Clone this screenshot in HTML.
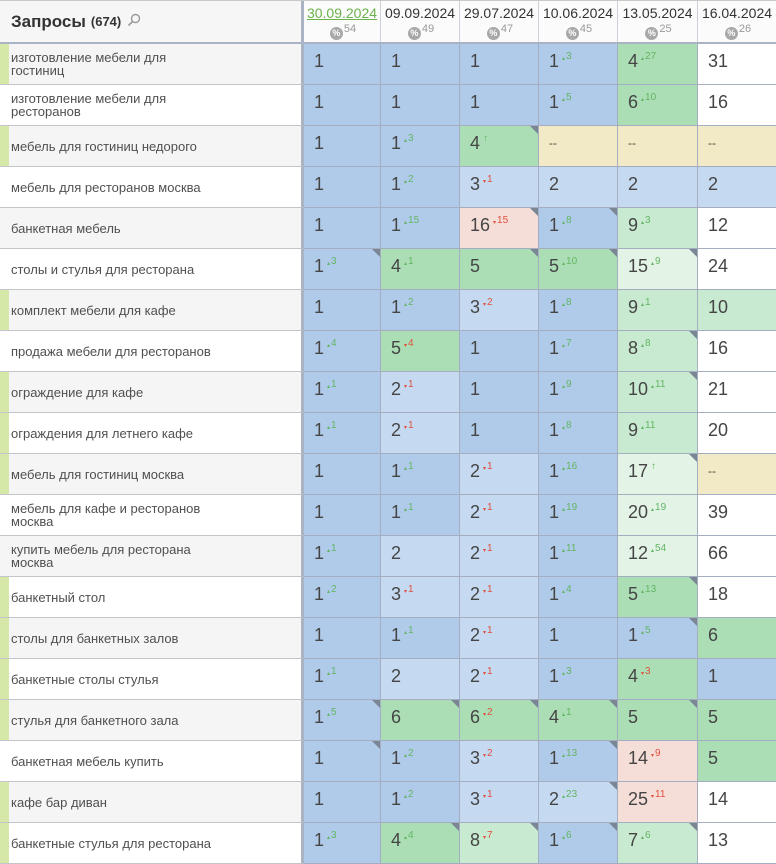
<!DOCTYPE html>
<html><head><meta charset="utf-8">
<style>
*{box-sizing:border-box;margin:0;padding:0}
html,body{width:776px;height:864px;overflow:hidden;background:#fff}
body{font-family:"Liberation Sans","DejaVu Sans",sans-serif;color:#454545}
.h,.r{display:flex;width:776px}
.h{height:44px;border-top:1px solid #c9c9c9;border-bottom:2px solid #a9b3c4}
.r{height:41px}
.h>div:nth-child(1),.r>div:nth-child(1){width:304px;border-right:3px solid #a9b3c4}
.h>div:nth-child(2),.r>div:nth-child(2){width:77px}
.h>div:nth-child(3),.r>div:nth-child(3){width:79px}
.h>div:nth-child(4),.r>div:nth-child(4){width:79px}
.h>div:nth-child(5),.r>div:nth-child(5){width:79px}
.h>div:nth-child(6),.r>div:nth-child(6){width:80px}
.h>div:nth-child(7),.r>div:nth-child(7){width:78px;border-right:none}
.h0{background:#f6f6f6;padding-left:11px;display:flex;align-items:center;font-size:17px;font-weight:bold;color:#333}
.h0 small{font-size:13px;margin-left:5px}
.h0 svg{margin-left:6px;margin-top:-4px}
.hc{background:#fbfbfb;border-right:1px solid #cdd2da;text-align:center;padding-top:4px;font-size:14px;line-height:16px;color:#333}
.hc a{color:#6cb24c;text-decoration:underline}
.pc{display:flex;justify-content:center;margin-top:6px;height:14px;padding-left:2px}
.ci{width:13px;height:13px;border-radius:50%;background:#a8a8a8;color:#fff;font-size:9px;line-height:13px;font-weight:bold;text-align:center}
.pc b{font-weight:normal;font-size:11px;line-height:11px;color:#999;margin-top:-3px;margin-left:1px}
.q{position:relative;padding-left:11px;display:flex;align-items:center;font-size:13px;line-height:13px;color:#505050;border-bottom:1px solid #c2c5ca}
.o .q{background:#f5f5f6}
.e .q{background:#fff}
.bar .q::before{content:"";position:absolute;left:0;top:0;bottom:0;width:9px;background:#d5e8a8}
.c{position:relative;padding:7px 0 0 10px;font-size:18px;line-height:20px;color:#454545;border-right:1px solid #a4aec0;border-bottom:1px solid #a4aec0;white-space:nowrap}
.c sup{font-size:10px;line-height:10px;vertical-align:top;margin-left:3px;position:relative;top:1px}
.c sup i{font-style:normal;font-size:6px;vertical-align:top;position:relative;top:2px;margin-right:1px}
.u{color:#62b562}
.d{color:#e0503c}
.c s{text-decoration:none;font-size:12px;position:relative;top:-2px}
.t::after{content:"";position:absolute;top:0;right:0;width:0;height:0;border-style:solid;border-width:0 8px 8px 0;border-color:transparent #7b8695 transparent transparent}
.b1{background:#b0cbea}
.b2{background:#c5d9f1}
.g1{background:#acdeb6}
.g2{background:#c8ead0}
.g3{background:#e3f4e7}
.pk{background:#f5ddd8}
.yl{background:#f2eac6}
.w{background:#fff}
</style></head><body>
<div class="h">
<div class="h0">Запросы<small>(674)</small><svg width="14" height="14" viewBox="0 0 14 14"><circle cx="8.5" cy="5.5" r="4" fill="none" stroke="#9a9a9a" stroke-width="1.4"/><line x1="5.6" y1="8.4" x2="1.5" y2="12.5" stroke="#9a9a9a" stroke-width="1.6"/></svg></div>
<div class="hc"><a>30.09.2024</a><div class="pc"><span class="ci">%</span><b>54</b></div></div>
<div class="hc">09.09.2024<div class="pc"><span class="ci">%</span><b>49</b></div></div>
<div class="hc">29.07.2024<div class="pc"><span class="ci">%</span><b>47</b></div></div>
<div class="hc">10.06.2024<div class="pc"><span class="ci">%</span><b>45</b></div></div>
<div class="hc">13.05.2024<div class="pc"><span class="ci">%</span><b>25</b></div></div>
<div class="hc">16.04.2024<div class="pc"><span class="ci">%</span><b>26</b></div></div>
</div>

<div class="r o bar"><div class="q">изготовление мебели для<br>гостиниц</div><div class="c b1">1</div><div class="c b1">1</div><div class="c b1">1</div><div class="c b1">1<sup class="u"><i>▴</i>3</sup></div><div class="c g1">4<sup class="u"><i>▴</i>27</sup></div><div class="c w">31</div></div>

<div class="r e"><div class="q">изготовление мебели для<br>ресторанов</div><div class="c b1">1</div><div class="c b1">1</div><div class="c b1">1</div><div class="c b1">1<sup class="u"><i>▴</i>5</sup></div><div class="c g1">6<sup class="u"><i>▴</i>10</sup></div><div class="c w">16</div></div>

<div class="r o bar"><div class="q">мебель для гостиниц недорого</div><div class="c b1">1</div><div class="c b1">1<sup class="u"><i>▴</i>3</sup></div><div class="c g1 t">4<sup class="u">↑</sup></div><div class="c yl"><s>--</s></div><div class="c yl"><s>--</s></div><div class="c yl"><s>--</s></div></div>

<div class="r e"><div class="q">мебель для ресторанов москва</div><div class="c b1">1</div><div class="c b1">1<sup class="u"><i>▴</i>2</sup></div><div class="c b2">3<sup class="d"><i>▾</i>1</sup></div><div class="c b2">2</div><div class="c b2">2</div><div class="c b2">2</div></div>

<div class="r o"><div class="q">банкетная мебель</div><div class="c b1">1</div><div class="c b1">1<sup class="u"><i>▴</i>15</sup></div><div class="c pk t">16<sup class="d"><i>▾</i>15</sup></div><div class="c b1 t">1<sup class="u"><i>▴</i>8</sup></div><div class="c g2">9<sup class="u"><i>▴</i>3</sup></div><div class="c w">12</div></div>

<div class="r e"><div class="q">столы и стулья для ресторана</div><div class="c b1 t">1<sup class="u"><i>▴</i>3</sup></div><div class="c g1">4<sup class="u"><i>▴</i>1</sup></div><div class="c g1 t">5</div><div class="c g1 t">5<sup class="u"><i>▴</i>10</sup></div><div class="c g3 t">15<sup class="u"><i>▴</i>9</sup></div><div class="c w">24</div></div>

<div class="r o bar"><div class="q">комплект мебели для кафе</div><div class="c b1">1</div><div class="c b1">1<sup class="u"><i>▴</i>2</sup></div><div class="c b2">3<sup class="d"><i>▾</i>2</sup></div><div class="c b1">1<sup class="u"><i>▴</i>8</sup></div><div class="c g2">9<sup class="u"><i>▴</i>1</sup></div><div class="c g2">10</div></div>

<div class="r e"><div class="q">продажа мебели для ресторанов</div><div class="c b1">1<sup class="u"><i>▴</i>4</sup></div><div class="c g1">5<sup class="d"><i>▾</i>4</sup></div><div class="c b1">1</div><div class="c b1">1<sup class="u"><i>▴</i>7</sup></div><div class="c g2 t">8<sup class="u"><i>▴</i>8</sup></div><div class="c w">16</div></div>

<div class="r o bar"><div class="q">ограждение для кафе</div><div class="c b1">1<sup class="u"><i>▴</i>1</sup></div><div class="c b2">2<sup class="d"><i>▾</i>1</sup></div><div class="c b1">1</div><div class="c b1">1<sup class="u"><i>▴</i>9</sup></div><div class="c g2 t">10<sup class="u"><i>▴</i>11</sup></div><div class="c w">21</div></div>

<div class="r e bar"><div class="q">ограждения для летнего кафе</div><div class="c b1">1<sup class="u"><i>▴</i>1</sup></div><div class="c b2">2<sup class="d"><i>▾</i>1</sup></div><div class="c b1">1</div><div class="c b1">1<sup class="u"><i>▴</i>8</sup></div><div class="c g2">9<sup class="u"><i>▴</i>11</sup></div><div class="c w">20</div></div>

<div class="r o bar"><div class="q">мебель для гостиниц москва</div><div class="c b1">1</div><div class="c b1">1<sup class="u"><i>▴</i>1</sup></div><div class="c b2">2<sup class="d"><i>▾</i>1</sup></div><div class="c b1">1<sup class="u"><i>▴</i>16</sup></div><div class="c g3 t">17<sup class="u">↑</sup></div><div class="c yl"><s>--</s></div></div>

<div class="r e"><div class="q">мебель для кафе и ресторанов<br>москва</div><div class="c b1">1</div><div class="c b1">1<sup class="u"><i>▴</i>1</sup></div><div class="c b2">2<sup class="d"><i>▾</i>1</sup></div><div class="c b1">1<sup class="u"><i>▴</i>19</sup></div><div class="c g3">20<sup class="u"><i>▴</i>19</sup></div><div class="c w">39</div></div>

<div class="r o"><div class="q">купить мебель для ресторана<br>москва</div><div class="c b1">1<sup class="u"><i>▴</i>1</sup></div><div class="c b2">2</div><div class="c b2">2<sup class="d"><i>▾</i>1</sup></div><div class="c b1">1<sup class="u"><i>▴</i>11</sup></div><div class="c g3">12<sup class="u"><i>▴</i>54</sup></div><div class="c w">66</div></div>

<div class="r e bar"><div class="q">банкетный стол</div><div class="c b1">1<sup class="u"><i>▴</i>2</sup></div><div class="c b2">3<sup class="d"><i>▾</i>1</sup></div><div class="c b2">2<sup class="d"><i>▾</i>1</sup></div><div class="c b1">1<sup class="u"><i>▴</i>4</sup></div><div class="c g1 t">5<sup class="u"><i>▴</i>13</sup></div><div class="c w">18</div></div>

<div class="r o bar"><div class="q">столы для банкетных залов</div><div class="c b1">1</div><div class="c b1">1<sup class="u"><i>▴</i>1</sup></div><div class="c b2">2<sup class="d"><i>▾</i>1</sup></div><div class="c b1">1</div><div class="c b1 t">1<sup class="u"><i>▴</i>5</sup></div><div class="c g1">6</div></div>

<div class="r e bar"><div class="q">банкетные столы стулья</div><div class="c b1">1<sup class="u"><i>▴</i>1</sup></div><div class="c b2">2</div><div class="c b2">2<sup class="d"><i>▾</i>1</sup></div><div class="c b1">1<sup class="u"><i>▴</i>3</sup></div><div class="c g1">4<sup class="d"><i>▾</i>3</sup></div><div class="c b1">1</div></div>

<div class="r o bar"><div class="q">стулья для банкетного зала</div><div class="c b1 t">1<sup class="u"><i>▴</i>5</sup></div><div class="c g1 t">6</div><div class="c g1 t">6<sup class="d"><i>▾</i>2</sup></div><div class="c g1 t">4<sup class="u"><i>▴</i>1</sup></div><div class="c g1 t">5</div><div class="c g1">5</div></div>

<div class="r e"><div class="q">банкетная мебель купить</div><div class="c b1 t">1</div><div class="c b1">1<sup class="u"><i>▴</i>2</sup></div><div class="c b2">3<sup class="d"><i>▾</i>2</sup></div><div class="c b1 t">1<sup class="u"><i>▴</i>13</sup></div><div class="c pk">14<sup class="d"><i>▾</i>9</sup></div><div class="c g1">5</div></div>

<div class="r o bar"><div class="q">кафе бар диван</div><div class="c b1">1</div><div class="c b1">1<sup class="u"><i>▴</i>2</sup></div><div class="c b2">3<sup class="d"><i>▾</i>1</sup></div><div class="c b2 t">2<sup class="u"><i>▴</i>23</sup></div><div class="c pk">25<sup class="d"><i>▾</i>11</sup></div><div class="c w">14</div></div>

<div class="r e bar"><div class="q">банкетные стулья для ресторана</div><div class="c b1">1<sup class="u"><i>▴</i>3</sup></div><div class="c g1 t">4<sup class="u"><i>▴</i>4</sup></div><div class="c g2 t">8<sup class="d"><i>▾</i>7</sup></div><div class="c b1 t">1<sup class="u"><i>▴</i>6</sup></div><div class="c g2 t">7<sup class="u"><i>▴</i>6</sup></div><div class="c w">13</div></div>
</body></html>
